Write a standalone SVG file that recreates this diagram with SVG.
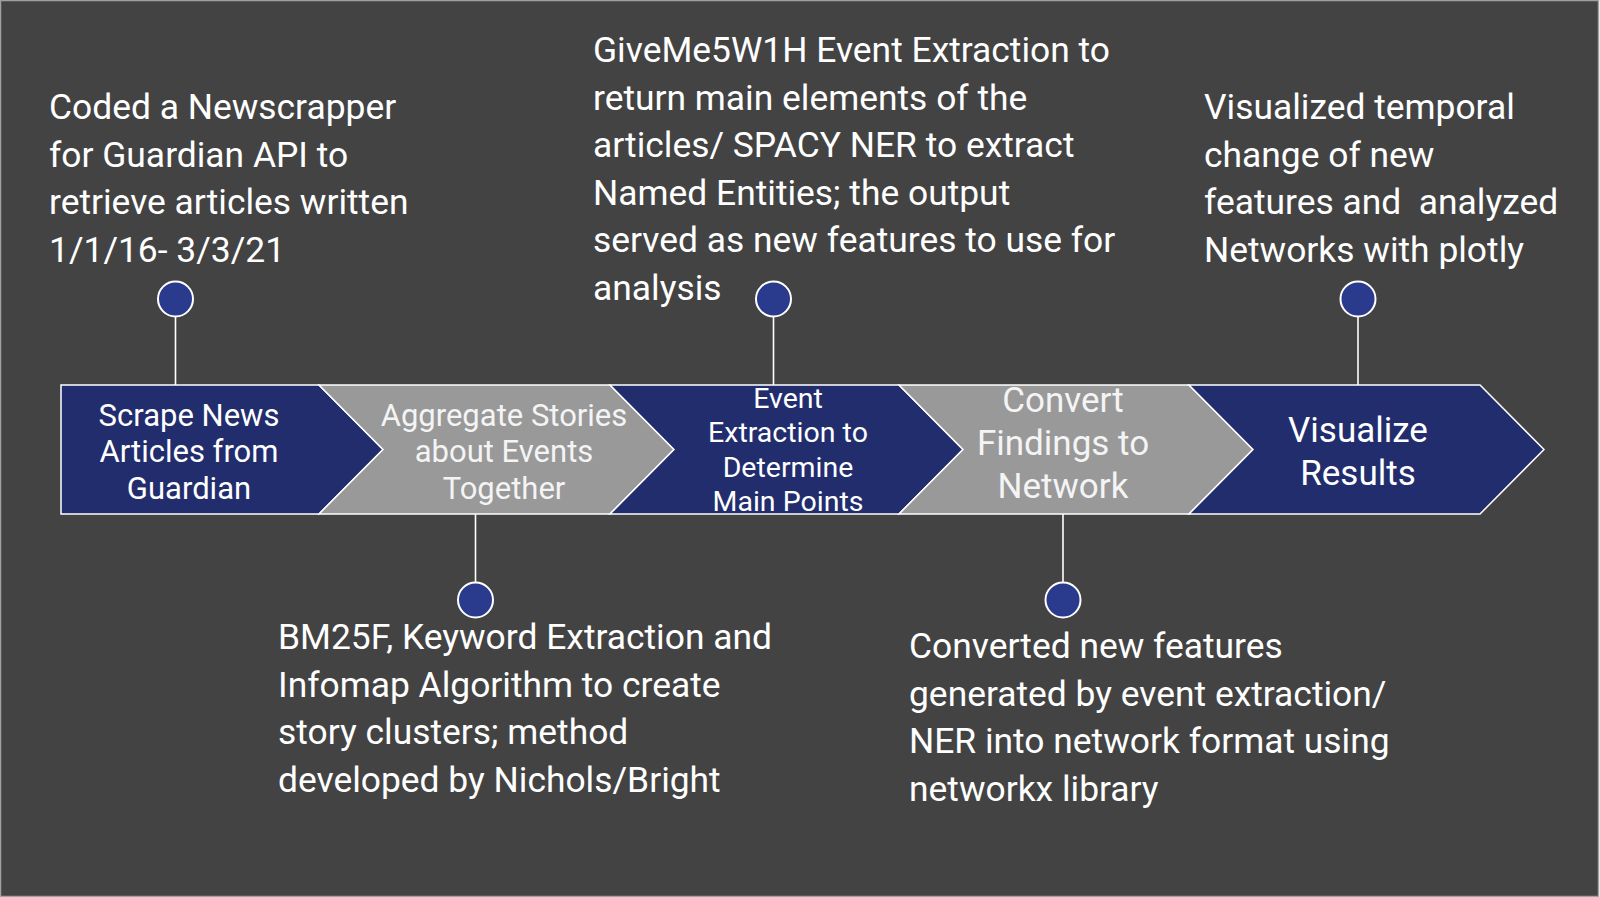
<svg xmlns="http://www.w3.org/2000/svg" width="1600" height="897" viewBox="0 0 1600 897">
<style>
.navy{fill:#222d6e;stroke:#ffffff;stroke-width:1.5;stroke-linejoin:miter}
.grey{fill:#999999;stroke:#ffffff;stroke-width:1.5;stroke-linejoin:miter}
.dot{fill:#2a3a8c;stroke:#ffffff;stroke-width:2}
.conn{stroke:#ffffff;stroke-width:1.6;fill:none}
.desc{font-family:Roboto,"Liberation Sans",sans-serif;font-size:35.4px;fill:#ffffff;white-space:pre}
.lbl{font-family:Roboto,"Liberation Sans",sans-serif;fill:#ffffff;text-anchor:middle}
.lblg{font-family:Roboto,"Liberation Sans",sans-serif;fill:#f4f4f4;text-anchor:middle}
</style>
<rect x="0.5" y="0.5" width="1598" height="896" fill="#434343" stroke="#a0a0a0" stroke-width="1.5"/>

<g id="connectors">
<line class="conn" x1="175.5" y1="317" x2="175.5" y2="385"/>
<line class="conn" x1="475.5" y1="514" x2="475.5" y2="582"/>
<line class="conn" x1="773.5" y1="317" x2="773.5" y2="385"/>
<line class="conn" x1="1063" y1="514" x2="1063" y2="582"/>
<line class="conn" x1="1358" y1="317" x2="1358" y2="385"/>
</g>

<g id="step1">
<path class="navy" d="M61,385 L319,385 L383,449.5 L319,514 L61,514 Z"/>
<text class="lbl" font-size="31"><tspan x="189" y="425.5">Scrape News</tspan><tspan x="189" y="461.5">Articles from</tspan><tspan x="189" y="498.5">Guardian</tspan></text>
</g>
<g id="step2">
<path class="grey" d="M319,385 L610,385 L674,449.5 L610,514 L319,514 L383,449.5 Z"/>
<text class="lblg" font-size="31"><tspan x="504" y="425.5">Aggregate Stories</tspan><tspan x="504" y="461.5">about Events</tspan><tspan x="504" y="498.5">Together</tspan></text>
</g>
<g id="step3">
<path class="navy" d="M610,385 L899,385 L963,449.5 L899,514 L610,514 L674,449.5 Z"/>
<text class="lbl" font-size="28.5"><tspan x="788" y="408">Event</tspan><tspan x="788" y="442">Extraction to</tspan><tspan x="788" y="477">Determine</tspan><tspan x="788" y="511">Main Points</tspan></text>
</g>
<g id="step4">
<path class="grey" d="M899,385 L1189,385 L1253,449.5 L1189,514 L899,514 L963,449.5 Z"/>
<text class="lblg" font-size="35"><tspan x="1063" y="412">Convert</tspan><tspan x="1063" y="455">Findings to</tspan><tspan x="1063" y="498">Network</tspan></text>
</g>
<g id="step5">
<path class="navy" d="M1189,385 L1480,385 L1544,449.5 L1480,514 L1189,514 L1253,449.5 Z"/>
<text class="lbl" font-size="35"><tspan x="1358" y="442">Visualize</tspan><tspan x="1358" y="485">Results</tspan></text>
</g>

<g id="note1">
<circle class="dot" cx="175.5" cy="299" r="17.5"/>
<text class="desc"><tspan x="49" y="119">Coded a Newscrapper</tspan><tspan x="49" y="167">for Guardian API to</tspan><tspan x="49" y="214">retrieve articles written</tspan><tspan x="49" y="262">1/1/16- 3/3/21</tspan></text>
</g>
<g id="note2">
<circle class="dot" cx="475.5" cy="600" r="17.5"/>
<text class="desc"><tspan x="278" y="649">BM25F, Keyword Extraction and</tspan><tspan x="278" y="697">Infomap Algorithm to create</tspan><tspan x="278" y="744">story clusters; method</tspan><tspan x="278" y="792">developed by Nichols/Bright</tspan></text>
</g>
<g id="note3">
<circle class="dot" cx="773.5" cy="299" r="17.5"/>
<text class="desc"><tspan x="593" y="62">GiveMe5W1H Event Extraction to</tspan><tspan x="593" y="110">return main elements of the</tspan><tspan x="593" y="157">articles/ SPACY NER to extract</tspan><tspan x="593" y="205">Named Entities; the output</tspan><tspan x="593" y="252">served as new features to use for</tspan><tspan x="593" y="300">analysis</tspan></text>
</g>
<g id="note4">
<circle class="dot" cx="1063" cy="600" r="17.5"/>
<text class="desc"><tspan x="909" y="658">Converted new features</tspan><tspan x="909" y="706">generated by event extraction/</tspan><tspan x="909" y="753">NER into network format using</tspan><tspan x="909" y="801">networkx library</tspan></text>
</g>
<g id="note5">
<circle class="dot" cx="1358" cy="299" r="17.5"/>
<text class="desc"><tspan x="1204" y="119">Visualized temporal</tspan><tspan x="1204" y="167">change of new</tspan><tspan x="1204" y="214">features and  analyzed</tspan><tspan x="1204" y="262">Networks with plotly</tspan></text>
</g>
</svg>
